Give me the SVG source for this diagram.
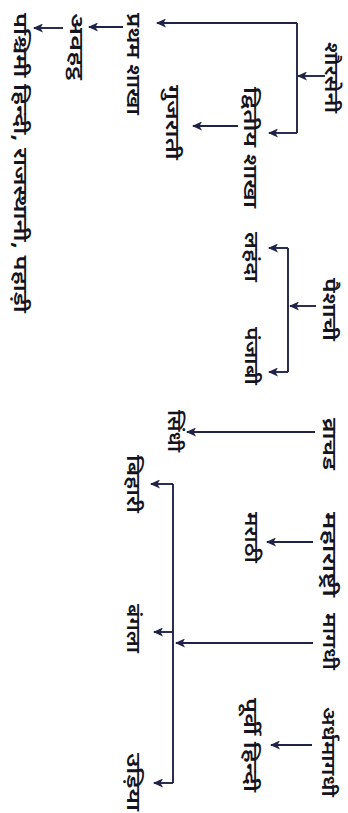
<svg xmlns="http://www.w3.org/2000/svg" width="348" height="813" viewBox="0 0 348 813">
  <style>
    .lbl { font-family: "Noto Sans Devanagari", "Noto Sans", "Lohit Devanagari", sans-serif; font-size: 19.5px; fill: #141420; font-weight: 600; }
    .wire { fill: none; stroke: #1f2347; stroke-width: 1.9; }
    .arr { marker-end: url(#head); }
  </style>
  <defs>
    <marker id="head" markerUnits="userSpaceOnUse" markerWidth="10" markerHeight="9" refX="9" refY="4.5" orient="auto">
      <path d="M0,0 L10,4.5 L0,9 L2.5,4.5 z" fill="#1f2347"/>
    </marker>
  </defs>
  <rect width="348" height="813" fill="#ffffff"/>

  <!-- connectors -->
  <g id="connectors">
    <!-- shauraseni family -->
    <path class="wire arr" d="M325,76 H298"/>
    <path class="wire" d="M297,23 V133"/>
    <path class="wire arr" d="M297,23 H157"/>
    <path class="wire arr" d="M297,133 H269"/>
    <path class="wire arr" d="M238,126 H193"/>
    <path class="wire arr" d="M123,27 H89"/>
    <path class="wire arr" d="M63,28 H34"/>
    <!-- paishachi family -->
    <path class="wire arr" d="M316,306 H290"/>
    <path class="wire" d="M288,248 V372"/>
    <path class="wire arr" d="M288,248 H269"/>
    <path class="wire arr" d="M288,372 H269"/>
    <!-- vrachad -->
    <path class="wire arr" d="M315,432 H187"/>
    <!-- maharashtri -->
    <path class="wire arr" d="M313,542 H267"/>
    <!-- magadhi family -->
    <path class="wire arr" d="M313,643 H176"/>
    <path class="wire" d="M173,484 V783"/>
    <path class="wire arr" d="M173,484 H151"/>
    <path class="wire arr" d="M173,632 H154"/>
    <path class="wire arr" d="M173,783 H154"/>
    <!-- ardhamagadhi -->
    <path class="wire arr" d="M312,745 H271"/>
  </g>

  <!-- labels, rotated a quarter turn so they read downward -->
  <g id="shauraseni"><text class="lbl" transform="translate(325,42) rotate(90)" textLength="71" lengthAdjust="spacingAndGlyphs">शौरसेनी</text></g>
  <g id="pratham-shakha"><text class="lbl" transform="translate(127,13) rotate(90)" textLength="102" lengthAdjust="spacingAndGlyphs">प्रथम शाखा</text></g>
  <g id="dvitiya-shakha"><text class="lbl" transform="translate(244,87) rotate(90)" textLength="121" lengthAdjust="spacingAndGlyphs">द्वितीय शाखा</text></g>
  <g id="gujarati"><text class="lbl" transform="translate(166,85) rotate(90)" textLength="75" lengthAdjust="spacingAndGlyphs">गुजराती</text></g>
  <g id="avahatth"><text class="lbl" transform="translate(70,13) rotate(90)" textLength="67" lengthAdjust="spacingAndGlyphs">अवहट्ठ</text></g>
  <g id="paschimi"><text class="lbl" transform="translate(14,13) rotate(90)" textLength="300" lengthAdjust="spacingAndGlyphs">पश्चिमी हिन्दी, राजस्थानी, पहाड़ी</text></g>
  <g id="paishachi"><text class="lbl" transform="translate(323,278) rotate(90)" textLength="63" lengthAdjust="spacingAndGlyphs">पैशाची</text></g>
  <g id="lahanda"><text class="lbl" transform="translate(245,232) rotate(90)" textLength="50" lengthAdjust="spacingAndGlyphs">लहंदा</text></g>
  <g id="panjabi"><text class="lbl" transform="translate(245,327) rotate(90)" textLength="58" lengthAdjust="spacingAndGlyphs">पंजाबी</text></g>
  <g id="vrachad"><text class="lbl" transform="translate(323,418) rotate(90)" textLength="52" lengthAdjust="spacingAndGlyphs">व्राचड</text></g>
  <g id="sindhi"><text class="lbl" transform="translate(168,410) rotate(90)" textLength="42" lengthAdjust="spacingAndGlyphs">सिंधी</text></g>
  <g id="maharashtri"><text class="lbl" transform="translate(323,512) rotate(90)" textLength="85" lengthAdjust="spacingAndGlyphs">महाराष्ट्री</text></g>
  <g id="marathi"><text class="lbl" transform="translate(245,512) rotate(90)" textLength="51" lengthAdjust="spacingAndGlyphs">मराठी</text></g>
  <g id="bihari"><text class="lbl" transform="translate(127,455) rotate(90)" textLength="58" lengthAdjust="spacingAndGlyphs">बिहारी</text></g>
  <g id="magadhi"><text class="lbl" transform="translate(323,613) rotate(90)" textLength="57" lengthAdjust="spacingAndGlyphs">मागधी</text></g>
  <g id="bangla"><text class="lbl" transform="translate(127,604) rotate(90)" textLength="49" lengthAdjust="spacingAndGlyphs">बंगला</text></g>
  <g id="ardhamagadhi"><text class="lbl" transform="translate(322,707) rotate(90)" textLength="90" lengthAdjust="spacingAndGlyphs">अर्धमागधी</text></g>
  <g id="purvi-hindi"><text class="lbl" transform="translate(244,698) rotate(90)" textLength="94" lengthAdjust="spacingAndGlyphs">पूर्वी हिन्दी</text></g>
  <g id="udiya"><text class="lbl" transform="translate(127,753) rotate(90)" textLength="58" lengthAdjust="spacingAndGlyphs">उड़िया</text></g>
</svg>
